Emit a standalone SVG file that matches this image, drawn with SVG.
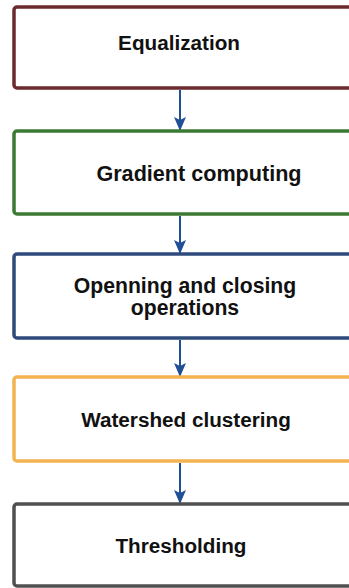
<svg xmlns="http://www.w3.org/2000/svg" width="349" height="588" viewBox="0 0 349 588">
<defs>
<style>
.box{fill:#ffffff;stroke-width:3.5}
.lbl{font-family:"Liberation Sans",Arial,sans-serif;font-weight:bold;font-size:20.7px;fill:#111111;text-anchor:middle}
.conn{stroke:#1f4f95;stroke-width:2;fill:none}
</style>
<marker id="ah" viewBox="0 0 14 12" refX="13" refY="6" markerWidth="14" markerHeight="12" markerUnits="userSpaceOnUse" orient="auto">
<path d="M0,0 L14,6 L0,12 L3,6 Z" fill="#1f4f95"/>
</marker>
</defs>
<rect width="349" height="588" fill="#ffffff"/>
<g id="connectors">
<line class="conn" x1="180" y1="90" x2="180" y2="130" marker-end="url(#ah)"/>
<line class="conn" x1="180" y1="216" x2="180" y2="253" marker-end="url(#ah)"/>
<line class="conn" x1="180" y1="340" x2="180" y2="376" marker-end="url(#ah)"/>
<line class="conn" x1="180" y1="463" x2="180" y2="503" marker-end="url(#ah)"/>
</g>
<g id="equalization">
<rect class="box" x="14" y="7" width="360" height="81" rx="3" stroke="#6b2a2e"/>
<text class="lbl" x="179" y="50">Equalization</text>
</g>
<g id="gradient">
<rect class="box" x="14" y="131" width="360" height="83" rx="3" stroke="#3b7a34"/>
<text class="lbl" x="199" y="181" style="font-size:21.6px">Gradient computing</text>
</g>
<g id="morphology">
<rect class="box" x="14" y="254" width="360" height="84" rx="3" stroke="#2f4b7c"/>
<text class="lbl" x="185" y="293" style="font-size:21.2px">Openning and closing</text>
<text class="lbl" x="185" y="315" style="font-size:21.2px">operations</text>
</g>
<g id="watershed">
<rect class="box" x="14" y="377" width="360" height="84" rx="3" stroke="#f2b350"/>
<text class="lbl" x="186" y="427">Watershed clustering</text>
</g>
<g id="thresholding">
<rect class="box" x="14" y="504" width="360" height="82" rx="3" stroke="#505050"/>
<text class="lbl" x="181" y="553">Thresholding</text>
</g>
</svg>
